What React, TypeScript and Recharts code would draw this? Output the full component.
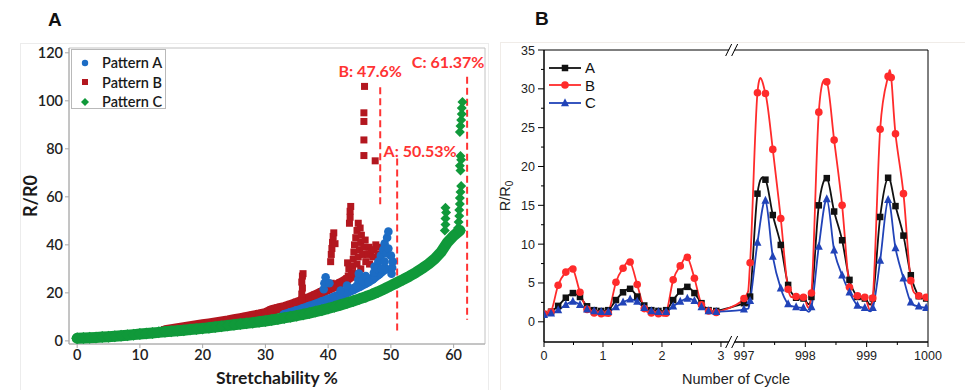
import React from 'react';
import {
  ScatterChart, Scatter, XAxis, YAxis, ReferenceLine, ReferenceArea, ReferenceDot,
  Legend, LineChart, Line, Label,
} from 'recharts';

// ---------------- Panel A data ----------------
const patternNames = ['Pattern A', 'Pattern B', 'Pattern C'];
const xTicksA = [0, 10, 20, 30, 40, 50, 60];
const yTicksA = [0, 20, 40, 60, 80, 100, 120];

const greenX = [0,1,2,3,4,5,6,7,8,9,10,11,12,13,14,15,16,17,18,19,20,21,22,23,24,25,26,27,28,29,30,31,32,33,34,35,36,37,38,39,40,41,42,43,44,45,46,47,48,49,50,51,52,53,54,55,56,57,58,59,60,61];
const greenY = [1.1,1.2,1.3,1.45,1.6,1.75,1.9,2.1,2.35,2.6,2.9,3.1,3.3,3.55,3.8,4.0,4.2,4.45,4.7,4.95,5.2,5.5,5.8,6.1,6.4,6.7,7.0,7.3,7.6,7.95,8.3,8.7,9.1,9.55,10.0,10.5,11.0,11.6,12.2,12.8,13.5,14.2,15.0,15.8,16.6,17.5,18.4,19.4,20.5,21.7,23.0,24.3,25.6,27.0,28.5,30.2,32.0,34.2,37.0,41.0,43.8,46.0];
const greenSpikeX = [58.6,58.7,58.7,58.8,58.7,60.7,60.8,60.9,60.9,61.0,61.0,61.1,61.2,61.1,61.0,61.2,61.1,61.0,61.1,61.2,61.3,61.3,61.4];
const greenSpikeY = [46,48.5,51,53.5,55.5,47,49.5,52,54.5,57,59.5,62,64.5,71,73,75.5,77,87,89.5,92,94.5,97,99.5];

const redX = [14,15,16,17,18,19,20,21,22,23,24,25,26,27,28,29,30,31,32,33,34,35,36,37,38,39,40,41,42,43,44];
const redY = [4.5,4.9,5.3,5.7,6.1,6.5,6.9,7.3,7.7,8.1,8.5,9.0,9.5,10.0,10.5,11.0,11.6,12.8,13.5,14.1,15.0,15.9,16.9,17.9,19.1,20.3,21.5,22.7,24.1,25.6,27.5];
const redSpikeX = [35.8,35.8,35.9,35.8,35.9,36.0,40.4,40.5,40.6,40.7,40.8,40.9,41.1,40.5,43.4,43.5,43.5,43.6,43.2,43.3,43.1,43.8,43.9,44.0,44.1,44.2,44.4,44.6,44.8,45.1,45.3,45.2,45.0,44.8,44.6,45.5,45.7,45.9,46.0,46.3,46.5,46.8,47.1,47.3,47.6,47.9,48.0,46.6,45.2,44.2,45.8,45.7,45.7,45.7,45.7,47.5];
const redSpikeY = [17,19.5,22,24.5,27,28,33,36,38.5,41,43.5,45,40.5,24,49,51.5,54,56,27,30,32.5,28,31,34,37,40,43,46,49,47,44,41,38,35,32,36,39,42,33,36,39,37,35,38,40,39,36,32,30,28,106,95,91.4,83.7,77.2,75];

const blueX = [33,34,35,36,37,38,39,40,41,42,43,44,45,46,47,48,49];
const blueY = [10.8,11.6,12.4,13.3,14.2,15.1,16.1,17.1,18.1,19.2,20.3,21.5,22.8,24.2,25.8,27.8,30.0];
const blueSpikeX = [39.3,39.4,39.6,40.2,44.6,44.8,44.9,47.2,47.3,47.4,48.0,48.4,48.8,49.0,49.4,49.6,49.3,49.6,50.1,50.2,50.3,50.0,42.0,43.0,45.5,46.0,46.5,47.8,48.5,49.0];
const blueSpikeY = [21.5,24,26.5,24,23,25.5,28,26,28.5,31,33,35.5,38,40.5,43,45.5,36.5,38.5,28,30.5,33,35.5,21,23,25,27,24.5,30,30,33];

const limitLabels = ['B: 47.6%', 'A: 50.53%', 'C: 61.37%'];
const limitX = [48.3, 51.0, 62.15];
const limitTop = [105.7, 76, 110];
const limitBottom = [56.7, 3.9, 8.8];

// ---------------- Panel B data ----------------
const seriesNames = ['A', 'B', 'C'];
const tickCycles = [0, 1, 2, 3, 997, 998, 999, 1000];
const tickLabels = ['0', '1', '2', '3', '997', '998', '999', '1000'];
const minorCycles = [0.5, 1.5, 2.5, 997.5, 998.5, 999.5];
const yTicksB = [0, 5, 10, 15, 20, 25, 30, 35];
const yMinorB = [2.5, 7.5, 12.5, 17.5, 22.5, 27.5, 32.5];

const leftCycle = [0,0.12,0.24,0.37,0.49,0.61,0.73,0.85,0.97,1.09,1.22,1.34,1.46,1.58,1.70,1.82,1.94,2.07,2.19,2.31,2.43,2.55,2.67,2.79,2.92];
const leftA = [1.0,1.3,2.05,3.1,3.7,3.2,2.0,1.5,1.4,1.5,2.8,3.8,4.25,3.25,2.1,1.5,1.4,1.5,2.8,3.9,4.5,3.7,2.4,1.5,1.4];
const leftB = [1.0,1.3,4.7,6.4,6.8,3.8,1.6,1.15,1.05,1.1,5.1,6.9,7.7,4.8,1.7,1.15,1.05,1.1,5.4,7.2,8.3,5.6,2.2,1.4,1.2];
const leftC = [0.9,1.1,1.5,2.2,2.6,2.2,1.6,1.4,1.3,1.3,1.9,2.5,2.9,2.6,1.8,1.4,1.3,1.3,2.0,2.6,3.0,2.7,1.9,1.4,1.3];

const rightCycle = [997.0,997.1,997.22,997.35,997.47,997.6,997.72,997.85,997.97,998.1,998.22,998.35,998.47,998.6,998.72,998.85,998.97,999.1,999.22,999.35,999.47,999.6,999.72,999.85,999.97];
const rightA = [2.4,3.25,16.5,18.3,13.75,9.9,4.75,3.1,3.0,3.2,15.0,18.5,14.2,10.5,5.4,3.2,3.0,3.0,13.5,18.55,14.9,11.1,6.0,3.3,3.0];
const rightCycleB = [997.0,997.1,997.22,997.35,997.47,997.6,997.72,997.85,997.97,998.1,998.22,998.35,998.47,998.6,998.72,998.85,998.97,999.1,999.22,999.35,999.40,999.47,999.6,999.72,999.85,999.97];
const rightB = [3.0,7.6,29.5,29.4,22.2,13.3,4.2,3.25,3.17,3.7,27.0,30.9,23.4,15.0,4.45,3.34,3.17,3.05,24.8,31.6,31.45,24.2,16.5,5.3,3.34,3.17];
const rightC = [1.6,2.7,10.2,15.6,8.4,4.3,2.3,1.9,1.8,1.9,9.7,15.8,9.2,6.0,3.8,2.1,1.8,1.8,7.9,15.7,9.5,5.6,2.5,2.0,1.8];

// ---------------- helpers ----------------
const BREAK_START = 3.39;
const RIGHT_SCALE = 1.04;
const X_MAX_B = 6.51;
const BREAK_AT = 3.19;
const toAxis = (c: number) => (c <= 3 ? c : BREAK_START + (c - 997) * RIGHT_SCALE);

const zipXY = (xs: number[], ys: number[]) => xs.map((x, i) => ({ x, y: ys[i] }));
const seriesRows = (lc: number[], lv: number[], rc: number[], rv: number[]) => [
  ...lc.map((c, i) => ({ x: toAxis(c), y: lv[i] })),
  ...rc.map((c, i) => ({ x: toAxis(c), y: rv[i] })),
];

const rowsA = seriesRows(leftCycle, leftA, rightCycle, rightA);
const rowsB = seriesRows(leftCycle, leftB, rightCycleB, rightB);
const rowsC = seriesRows(leftCycle, leftC, rightCycle, rightC);

const catmullRom: any = (context: any) => {
  let pts: number[][] = [];
  return {
    areaStart() {},
    areaEnd() {},
    lineStart() { pts = []; },
    point(x: number, y: number) { pts.push([+x, +y]); },
    lineEnd() {
      const n = pts.length;
      if (!n) return;
      context.moveTo(pts[0][0], pts[0][1]);
      for (let i = 0; i < n - 1; i++) {
        const p0 = pts[i - 1] || pts[i];
        const p1 = pts[i];
        const p2 = pts[i + 1];
        const p3 = pts[i + 2] || p2;
        context.bezierCurveTo(
          p1[0] + (p2[0] - p0[0]) / 6, p1[1] + (p2[1] - p0[1]) / 6,
          p2[0] - (p3[0] - p1[0]) / 6, p2[1] - (p3[1] - p1[1]) / 6,
          p2[0], p2[1]
        );
      }
    },
  };
};

// colors
const A_BLUE = '#1c6cc4';
const A_RED = '#b3171f';
const A_GREEN = '#10993a';
const DASH_RED = '#ff3333';
const B_BLACK = '#111111';
const B_RED = '#ff2b2b';
const B_BLUE = '#2143b8';

const circleShape = (color: string, r: number) => (p: any) =>
  p.cx == null ? <g /> : <circle cx={p.cx} cy={p.cy} r={r} fill={color} />;
const squareShape = (color: string, s: number) => (p: any) =>
  p.cx == null ? <g /> : <rect x={p.cx - s / 2} y={p.cy - s / 2} width={s} height={s} fill={color} />;
const diamondShape = (color: string, w: number, h: number) => (p: any) =>
  p.cx == null ? <g /> : (
    <polygon
      points={`${p.cx},${p.cy - h / 2} ${p.cx + w / 2},${p.cy} ${p.cx},${p.cy + h / 2} ${p.cx - w / 2},${p.cy}`}
      fill={color}
    />
  );
const triangleShape = (color: string, s: number) => (p: any) =>
  p.cx == null ? <g /> : (
    <polygon
      points={`${p.cx},${p.cy - s * 0.6} ${p.cx + s / 2},${p.cy + s * 0.4} ${p.cx - s / 2},${p.cy + s * 0.4}`}
      fill={color}
    />
  );

const dotFn = (shape: (p: any) => any) => (p: any) => (
  <g key={`d-${p.index}`}>{p.cy == null ? null : shape(p)}</g>
);

const fontA = "Lato, 'Open Sans', sans-serif";
const fontB = "'Liberation Sans', Arial, sans-serif";

// ---------------- legends ----------------
const legendAMarkers = [circleShape(A_BLUE, 3.2), squareShape(A_RED, 6), diamondShape(A_GREEN, 8, 8)];
const LegendA = () => (
  <div style={{ width: 95, height: 60, boxSizing: 'border-box', border: '1px solid #b9b9b9', background: '#fff', fontFamily: fontA, fontWeight: 600, fontSize: 14.5, color: '#1a1a1a', paddingTop: 3 }}>
    {patternNames.map((n, i) => (
      <div key={n} style={{ display: 'flex', alignItems: 'center', height: 19.5 }}>
        <svg width={30} height={12} style={{ flex: 'none' }}>{legendAMarkers[i]({ cx: 13, cy: 6 })}</svg>
        <span style={{ lineHeight: '19px' }}>{n}</span>
      </div>
    ))}
  </div>
);

const legendBColors = [B_BLACK, B_RED, B_BLUE];
const legendBMarkers = [squareShape(B_BLACK, 6.5), circleShape(B_RED, 3.8), triangleShape(B_BLUE, 8)];
const LegendB = () => (
  <div style={{ fontFamily: fontB, fontSize: 15, color: '#111' }}>
    {seriesNames.map((n, i) => (
      <div key={n} style={{ display: 'flex', alignItems: 'center', height: 17.5 }}>
        <svg width={33} height={12} style={{ flex: 'none' }}>
          <line x1={0} x2={32} y1={6} y2={6} stroke={legendBColors[i]} strokeWidth={1.8} />
          {legendBMarkers[i]({ cx: 16, cy: 6 })}
        </svg>
        <span style={{ marginLeft: 3, lineHeight: '17px' }}>{n}</span>
      </div>
    ))}
  </div>
);

// ---------------- panel B ticks ----------------
const majorAxisX = tickCycles.map(toAxis);
const minorAxisX = minorCycles.map(toAxis);
const XTickB = (p: any) => {
  const v = p.payload.value;
  const idx = majorAxisX.findIndex((m) => Math.abs(m - v) < 1e-6);
  const major = idx >= 0;
  return (
    <g>
      <line x1={p.x} x2={p.x} y1={p.y} y2={p.y + (major ? 5 : 3)} stroke="#000" strokeWidth={1} />
      {major && (
        <text x={p.x} y={p.y + 18} textAnchor="middle" fontSize={12.5} fontFamily={fontB} fill="#222">
          {tickLabels[idx]}
        </text>
      )}
    </g>
  );
};
const YTickB = (p: any) => {
  const v = p.payload.value;
  const major = yTicksB.includes(v);
  return (
    <g>
      <line x1={p.x - (major ? 6 : 3)} x2={p.x} y1={p.y} y2={p.y} stroke="#000" strokeWidth={1} />
      {major && (
        <text x={p.x - 9} y={p.y} dy="0.36em" textAnchor="end" fontSize={12.5} fontFamily={fontB} fill="#222">
          {v}
        </text>
      )}
    </g>
  );
};

const BreakMark = (p: any) => (
  <g>
    <polygon points={`${p.cx - 6},${p.cy + 6} ${p.cx},${p.cy - 6} ${p.cx + 5},${p.cy - 6} ${p.cx - 1},${p.cy + 6}`} fill="#fff" />
    <line x1={p.cx - 6.5} y1={p.cy + 6} x2={p.cx - 0.5} y2={p.cy - 6} stroke="#000" strokeWidth={1} />
    <line x1={p.cx - 0.5} y1={p.cy + 6} x2={p.cx + 5.5} y2={p.cy - 6} stroke="#000" strokeWidth={1} />
  </g>
);

// ---------------- App ----------------
export default function App() {
  return (
    <div style={{ position: 'absolute', left: 0, top: 0, width: 965, height: 390, background: '#fff', overflow: 'hidden' }}>
      <div style={{ position: 'absolute', left: 20, top: 43, width: 467, height: 360, border: '1px solid #ececec' }} />
      <div style={{ position: 'absolute', left: 500, top: 42, width: 470, height: 360, border: '1px solid #f0ece8' }} />
      <div style={{ position: 'absolute', left: 48, top: 9, fontFamily: "'Liberation Sans', Arial, sans-serif", fontWeight: 700, fontSize: 19, color: '#111' }}>A</div>
      <div style={{ position: 'absolute', left: 535, top: 8, fontFamily: "'Liberation Sans', Arial, sans-serif", fontWeight: 700, fontSize: 19, color: '#111' }}>B</div>

      {/* Panel A */}
      <div style={{ position: 'absolute', left: 0, top: 0 }}>
        <ScatterChart width={490} height={390} margin={{ top: 48, right: 5, bottom: 0, left: 0 }}>
          <ReferenceArea x1={-1.3} x2={65} y1={-1.3} y2={122} fill="none" stroke="#c2c2c2" strokeWidth={1} ifOverflow="visible" />
          <XAxis
            type="number" dataKey="x" domain={[-1.3, 65]} ticks={xTicksA} allowDataOverflow height={46} interval={0}
            axisLine={{ stroke: '#a8a8a8' }} tickLine={{ stroke: '#a8a8a8' }} tickSize={4} tickMargin={2}
            tick={{ fill: '#222', fontSize: 14.5, fontFamily: fontA, fontWeight: 600 }}
          >
            <Label content={(p: any) => (
              <text x={p.viewBox.x + p.viewBox.width / 2} y={p.viewBox.y + 40} textAnchor="middle" fontFamily={fontA} fontWeight={700} fontSize={17.5} fill="#1a1a1a">Stretchability %</text>
            )} />
          </XAxis>
          <YAxis
            type="number" dataKey="y" domain={[-1.3, 122]} ticks={yTicksA} allowDataOverflow width={69} interval={0}
            axisLine={{ stroke: '#a8a8a8' }} tickLine={{ stroke: '#a8a8a8' }} tickSize={4} tickMargin={2}
            tick={{ fill: '#222', fontSize: 14.5, fontFamily: fontA, fontWeight: 600 }}
          >
            <Label content={(p: any) => {
              const x = 30; const y = p.viewBox.y + p.viewBox.height / 2;
              return <text x={x} y={y} transform={`rotate(-90 ${x} ${y})`} textAnchor="middle" dominantBaseline="central" fontFamily={fontA} fontWeight={700} fontSize={18} fill="#1a1a1a">R/R0</text>;
            }} />
          </YAxis>
          <Scatter name={patternNames[1]} data={zipXY(redX, redY)} fill={A_RED} shape={squareShape(A_RED, 8)}
            line={{ stroke: A_RED, strokeWidth: 10, fill: 'none', strokeLinecap: 'round', strokeLinejoin: 'round' }} lineJointType="linear" isAnimationActive={false} />
          <Scatter data={zipXY(redSpikeX, redSpikeY)} fill={A_RED} shape={squareShape(A_RED, 7)} isAnimationActive={false} legendType="none" />
          <Scatter name={patternNames[0]} data={zipXY(blueX, blueY)} fill={A_BLUE} shape={circleShape(A_BLUE, 5)}
            line={{ stroke: A_BLUE, strokeWidth: 10, fill: 'none', strokeLinecap: 'round', strokeLinejoin: 'round' }} lineJointType="linear" isAnimationActive={false} />
          <Scatter data={zipXY(blueSpikeX, blueSpikeY)} fill={A_BLUE} shape={circleShape(A_BLUE, 4.3)} isAnimationActive={false} legendType="none" />
          <Scatter name={patternNames[2]} data={zipXY(greenX, greenY)} fill={A_GREEN} shape={diamondShape(A_GREEN, 12, 12)}
            line={{ stroke: A_GREEN, strokeWidth: 11, fill: 'none', strokeLinecap: 'round', strokeLinejoin: 'round' }} lineJointType="linear" isAnimationActive={false} />
          <Scatter data={zipXY(greenSpikeX, greenSpikeY)} fill={A_GREEN} shape={diamondShape(A_GREEN, 10, 10)} isAnimationActive={false} legendType="none" />
          <ReferenceLine segment={[{ x: limitX[0], y: limitTop[0] }, { x: limitX[0], y: limitBottom[0] }]} stroke={DASH_RED} strokeWidth={2} strokeDasharray="7 4"
            label={{ value: limitLabels[0], position: 'top', dx: -10, dy: -5, fill: DASH_RED, fontSize: 16, fontWeight: 700, fontFamily: fontA }} />
          <ReferenceLine segment={[{ x: limitX[1], y: limitTop[1] }, { x: limitX[1], y: limitBottom[1] }]} stroke={DASH_RED} strokeWidth={2} strokeDasharray="7 4"
            label={{ value: limitLabels[1], position: 'top', dx: 23, dy: 4, fill: DASH_RED, fontSize: 16, fontWeight: 700, fontFamily: fontA }} />
          <ReferenceLine segment={[{ x: limitX[2], y: limitTop[2] }, { x: limitX[2], y: limitBottom[2] }]} stroke={DASH_RED} strokeWidth={2} strokeDasharray="7 4"
            label={{ value: limitLabels[2], position: 'top', dx: -19, dy: -4, fill: DASH_RED, fontSize: 16, fontWeight: 700, fontFamily: fontA }} />
          <Legend layout="vertical" align="center" verticalAlign="middle" content={LegendA}
            wrapperStyle={{ left: 71, top: 49, width: 95, height: 60 }} />
        </ScatterChart>
      </div>

      {/* Panel B */}
      <div style={{ position: 'absolute', left: 490, top: 0 }}>
        <LineChart width={475} height={390} margin={{ top: 50, right: 37, bottom: 0, left: 0 }}>
          <ReferenceArea x1={0} x2={X_MAX_B} y1={-2.6} y2={35} fill="none" stroke="#000" strokeWidth={1} ifOverflow="visible" />
          <XAxis
            type="number" dataKey="x" domain={[0, X_MAX_B]} allowDataOverflow height={48} interval={0}
            ticks={[...majorAxisX, ...minorAxisX]} tick={XTickB} tickLine={false} tickSize={0} tickMargin={0}
            axisLine={{ stroke: '#000' }}
          >
            <Label content={(p: any) => (
              <text x={p.viewBox.x + p.viewBox.width / 2} y={p.viewBox.y + 42} textAnchor="middle" fontFamily={fontB} fontSize={14.5} fill="#222">Number of Cycle</text>
            )} />
          </XAxis>
          <YAxis
            type="number" domain={[-2.6, 35]} allowDataOverflow width={54} interval={0}
            ticks={[...yTicksB, ...yMinorB]} tick={YTickB} tickLine={false} tickSize={0} tickMargin={0}
            axisLine={{ stroke: '#000' }}
          >
            <Label content={(p: any) => {
              const x = 15; const y = p.viewBox.y + p.viewBox.height / 2;
              return (
                <text x={x} y={y} transform={`rotate(-90 ${x} ${y})`} textAnchor="middle" dominantBaseline="central" fontFamily={fontB} fontSize={14.5} fill="#222">
                  R/R<tspan fontSize={10} dy={4}>0</tspan>
                </text>
              );
            }} />
          </YAxis>
          <Line name={seriesNames[0]} data={rowsA} dataKey="y" type={catmullRom} stroke={B_BLACK} strokeWidth={1.8}
            dot={dotFn(squareShape(B_BLACK, 6.5))} activeDot={false} isAnimationActive={false} />
          <Line name={seriesNames[1]} data={rowsB} dataKey="y" type={catmullRom} stroke={B_RED} strokeWidth={1.8}
            dot={dotFn(circleShape(B_RED, 3.8))} activeDot={false} isAnimationActive={false} />
          <Line name={seriesNames[2]} data={rowsC} dataKey="y" type={catmullRom} stroke={B_BLUE} strokeWidth={1.8}
            dot={dotFn(triangleShape(B_BLUE, 8))} activeDot={false} isAnimationActive={false} />
          <ReferenceDot x={BREAK_AT} y={35} r={0} ifOverflow="visible" shape={BreakMark} />
          <ReferenceDot x={BREAK_AT} y={-2.6} r={0} ifOverflow="visible" shape={BreakMark} />
          <Legend layout="vertical" align="center" verticalAlign="middle" content={LegendB}
            wrapperStyle={{ left: 59, top: 59, width: 60, height: 54 }} />
        </LineChart>
      </div>
    </div>
  );
}
